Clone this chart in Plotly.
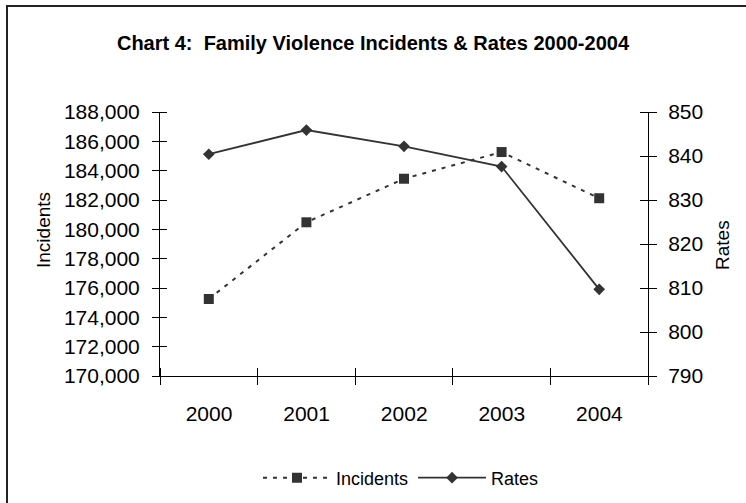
import plotly.graph_objects as go

# Family violence incidents and rates, 2000-2004
years = [2000, 2001, 2002, 2003, 2004]
incidents = [175250, 180480, 183450, 185270, 182120]
rates = [840.4, 845.9, 842.2, 837.6, 809.7]

title_text = "Chart 4:  Family Violence Incidents &amp; Rates 2000-2004"
left_ticks = list(range(170000, 188001, 2000))
right_ticks = list(range(790, 851, 10))

W, H = 746, 503
L, R, T, B = 160, 98, 112, 127
pw, ph = W - L - R, H - T - B

ink = "#333333"
axis_col = "#000000"
font_main = "Liberation Sans, Arial, sans-serif"

# year bins: tick marks sit on the bin edges, labels are centred in each bin
edges = [y - 0.5 for y in years] + [years[-1] + 0.5]
edge_text = [str(y) for y in years] + [""]
bin_px = pw / len(years)

fig = go.Figure()

fig.add_trace(go.Scatter(
    x=years, y=incidents, name="Incidents", mode="lines+markers",
    line=dict(color=ink, width=2, dash="4px,6px"),
    marker=dict(symbol="square", size=10, color=ink),
    yaxis="y",
))
fig.add_trace(go.Scatter(
    x=years, y=rates, name="Rates", mode="lines+markers",
    line=dict(color=ink, width=1.8),
    marker=dict(symbol="diamond", size=9, color=ink),
    yaxis="y2",
))


def px_to_paper_x(px):
    return (px - L) / pw


def px_to_paper_y(py):
    return (H - B - py) / ph


def cross_minor(vals, eps, length):
    # inner half of the cross-shaped tick marks
    return dict(tickmode="array", tickvals=[v + eps for v in vals],
                ticks="inside", ticklen=length, tickcolor=axis_col,
                tickwidth=1, showgrid=False)


tick_font = dict(family=font_main, size=21, color="#000000")

fig.update_layout(
    width=W, height=H,
    margin=dict(l=L, r=R, t=T, b=B),
    paper_bgcolor="white", plot_bgcolor="white",
    showlegend=True,
    title=dict(
        text="<b>" + title_text + "</b>",
        font=dict(family=font_main, size=20, color="#000000"),
        x=0.5, xref="container", xanchor="center",
        y=1 - 43 / H, yref="container", yanchor="middle",
    ),
    xaxis=dict(
        range=[years[0] - 0.5, years[-1] + 0.5],
        tickmode="array", tickvals=edges, ticktext=edge_text,
        ticklabelshift=int(round(bin_px / 2)), ticklabelstandoff=11,
        showline=True, linecolor=axis_col, linewidth=1,
        ticks="outside", ticklen=8, tickcolor=axis_col, tickwidth=1,
        showgrid=False, zeroline=False, tickfont=tick_font,
        minor=cross_minor(edges, 1e-6, 8),
    ),
    yaxis=dict(
        range=[170000, 188000], tickmode="array", tickvals=left_ticks,
        ticktext=[f"{v:,}" for v in left_ticks],
        showline=True, linecolor=axis_col, linewidth=1,
        ticks="outside", ticklen=7, tickcolor=axis_col, tickwidth=1,
        showgrid=False, zeroline=False,
        tickfont=tick_font, ticklabelstandoff=8,
        minor=cross_minor(left_ticks, 0.01, 7),
    ),
    yaxis2=dict(
        overlaying="y", side="right", anchor="x",
        range=[790, 850], tickmode="array", tickvals=right_ticks,
        showline=True, linecolor=axis_col, linewidth=1,
        ticks="outside", ticklen=8, tickcolor=axis_col, tickwidth=1,
        showgrid=False, zeroline=False,
        tickfont=tick_font, ticklabelstandoff=7,
        minor=cross_minor(right_ticks, 1e-5, 8),
    ),
    legend=dict(
        orientation="h", x=258 / W, xref="container", xanchor="left",
        y=1 - 478 / H, yref="container", yanchor="middle",
        font=dict(family=font_main, size=18, color="#000000"),
        itemwidth=68, bgcolor="rgba(0,0,0,0)",
    ),
    annotations=[
        dict(text="Incidents", textangle=-90, showarrow=False,
             xref="paper", yref="paper",
             x=px_to_paper_x(43), y=px_to_paper_y(230),
             xanchor="center", yanchor="middle",
             font=dict(family=font_main, size=19, color="#000000")),
        dict(text="Rates", textangle=-90, showarrow=False,
             xref="paper", yref="paper",
             x=px_to_paper_x(722), y=px_to_paper_y(245),
             xanchor="center", yanchor="middle",
             font=dict(family=font_main, size=19, color="#000000")),
    ],
    shapes=[
        # chart frame
        dict(type="rect", xref="paper", yref="paper", layer="below",
             x0=px_to_paper_x(7), x1=px_to_paper_x(770),
             y0=px_to_paper_y(520), y1=px_to_paper_y(6),
             line=dict(color="#222222", width=2), fillcolor="rgba(0,0,0,0)"),
    ],
)

fig.write_html("out.html")
